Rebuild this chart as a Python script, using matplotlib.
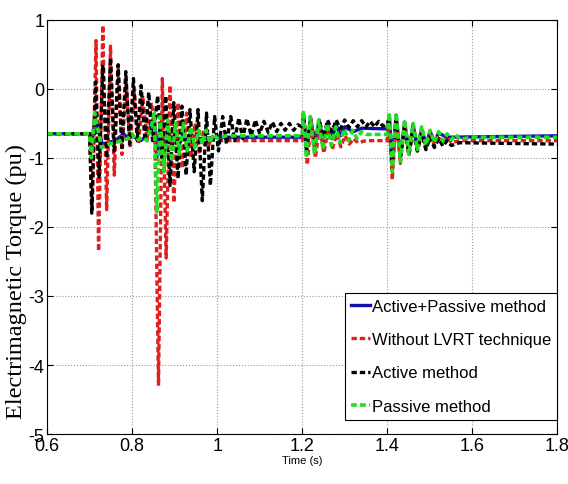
import numpy as np
import matplotlib
matplotlib.use('Agg')
from matplotlib import pyplot as plt

plt.rcParams['axes.unicode_minus'] = False

# breakpoints: (time s, torque pu)
t_both = [0.6, 0.700, 0.704, 0.712, 0.720, 0.730, 0.760, 0.780, 0.790, 0.800, 0.820, 0.835,
          0.845, 0.852, 0.858, 0.866, 0.875, 0.884, 0.893, 0.902, 0.911, 0.920, 0.930,
          0.940, 0.960, 1.000, 1.200,
          1.203, 1.210, 1.220, 1.230, 1.240, 1.250, 1.260, 1.270, 1.280, 1.290, 1.300,
          1.320, 1.340, 1.400,
          1.405, 1.412, 1.421, 1.431, 1.441, 1.451, 1.461, 1.471, 1.481, 1.491, 1.501,
          1.511, 1.521, 1.540, 1.800]
v_both = [-0.65, -0.65, -0.9, -0.4, -0.6, -0.8, -0.75, -0.65, -0.72, -0.68, -0.75, -0.68,
          -0.5, -0.4, -1.0, -0.5, -0.95, -0.55, -0.85, -0.6, -0.8, -0.65, -0.78,
          -0.68, -0.72, -0.7, -0.7,
          -0.35, -0.9, -0.42, -0.85, -0.45, -0.78, -0.5, -0.72, -0.52, -0.68, -0.55,
          -0.62, -0.57, -0.58,
          -0.38, -1.1, -0.38, -1.0, -0.48, -0.9, -0.52, -0.85, -0.58, -0.8, -0.62,
          -0.76, -0.64, -0.7, -0.68]

t_none = [0.6, 0.700, 0.706, 0.715, 0.721, 0.731, 0.740, 0.749, 0.758, 0.767, 0.776,
          0.786, 0.795, 0.805, 0.815, 0.825, 0.835, 0.845, 0.853, 0.862, 0.871, 0.880,
          0.889, 0.898, 0.908, 0.918, 0.928, 0.938, 0.948, 0.958, 0.968, 0.978, 0.988,
          1.000, 1.200,
          1.204, 1.212, 1.221, 1.231, 1.241, 1.251, 1.261, 1.271, 1.281, 1.291, 1.301,
          1.311, 1.321, 1.331, 1.350, 1.400,
          1.404, 1.412, 1.421, 1.431, 1.441, 1.451, 1.461, 1.471, 1.481, 1.491, 1.501,
          1.511, 1.521, 1.531, 1.541, 1.551, 1.570, 1.800]
v_none = [-0.65, -0.65, -1.75, 0.7, -2.35, 0.92, -1.75, 0.62, -1.25, 0.3, -0.95,
          0.1, -0.85, -0.05, -0.8, -0.1, -0.75, -0.2, -0.5, -4.3, 0.15, -2.45,
          0.05, -1.65, -0.2, -1.15, -0.35, -1.0, -0.5, -0.95, -0.6, -0.85, -0.7,
          -0.75, -0.75,
          -0.4, -1.1, -0.45, -1.0, -0.55, -0.93, -0.6, -0.88, -0.65, -0.84, -0.68,
          -0.8, -0.72, -0.78, -0.75, -0.75,
          -0.4, -1.32, -0.4, -1.08, -0.5, -0.98, -0.55, -0.9, -0.6, -0.86, -0.65,
          -0.82, -0.68, -0.8, -0.7, -0.78, -0.75, -0.75]

t_active = [0.6, 0.700, 0.705, 0.714, 0.722, 0.731, 0.740, 0.749, 0.758, 0.767, 0.776,
            0.785, 0.794, 0.803, 0.812, 0.821, 0.830, 0.839, 0.848, 0.860, 0.870, 0.879,
            0.889, 0.898, 0.908, 0.917, 0.927, 0.936, 0.946, 0.955, 0.965, 0.975, 0.984,
            0.994, 1.003, 1.013, 1.022, 1.032, 1.041, 1.051, 1.060, 1.070, 1.080, 1.090,
            1.100, 1.110, 1.120, 1.130, 1.140, 1.150, 1.160, 1.170, 1.180, 1.190, 1.200,
            1.204, 1.210, 1.220, 1.230, 1.240, 1.250, 1.260, 1.270, 1.280, 1.290, 1.300,
            1.310, 1.320, 1.330, 1.340, 1.350, 1.360, 1.370, 1.380, 1.390, 1.400,
            1.404, 1.412, 1.421, 1.431, 1.441, 1.451, 1.461, 1.471, 1.481, 1.491, 1.501,
            1.511, 1.521, 1.531, 1.541, 1.551, 1.570, 1.800]
v_active = [-0.65, -0.65, -1.8, 0.1, -1.3, 0.35, -1.0, 0.45, -0.9, 0.35, -0.85,
            0.25, -0.8, 0.15, -0.75, 0.05, -0.75, -0.05, -0.75, -0.1, -1.0, -0.1,
            -1.4, -0.2, -1.3, -0.25, -1.25, -0.3, -1.2, -0.3, -1.62, -0.35, -1.4,
            -0.4, -0.9, -0.4, -0.8, -0.4, -0.75, -0.42, -0.72, -0.43, -0.68, -0.45,
            -0.65, -0.47, -0.63, -0.48, -0.62, -0.5, -0.6, -0.5, -0.6, -0.52, -0.55,
            -0.4, -0.9, -0.45, -0.8, -0.45, -0.7, -0.45, -0.62, -0.45, -0.58, -0.45,
            -0.56, -0.46, -0.55, -0.46, -0.55, -0.47, -0.55, -0.47, -0.54, -0.5,
            -0.45, -1.1, -0.45, -1.0, -0.55, -0.95, -0.6, -0.9, -0.65, -0.88, -0.7,
            -0.85, -0.72, -0.83, -0.75, -0.82, -0.78, -0.8]

t_passive = [0.6, 0.700, 0.704, 0.712, 0.718, 0.728, 0.745, 0.760, 0.775, 0.790, 0.800,
             0.810, 0.825, 0.835, 0.845, 0.852, 0.858, 0.866, 0.875, 0.884, 0.893, 0.902,
             0.911, 0.920, 0.929, 0.938, 0.947, 0.956, 0.965, 0.974, 0.983, 0.992, 1.000,
             1.020, 1.200,
             1.203, 1.210, 1.219, 1.229, 1.239, 1.249, 1.259, 1.269, 1.279, 1.289, 1.299,
             1.309, 1.319, 1.329, 1.339, 1.350, 1.400,
             1.405, 1.412, 1.421, 1.431, 1.441, 1.451, 1.461, 1.471, 1.481, 1.491, 1.501,
             1.511, 1.521, 1.531, 1.541, 1.551, 1.561, 1.571, 1.600, 1.800]
v_passive = [-0.65, -0.65, -1.0, -0.35, -0.55, -0.85, -0.8, -0.78, -0.75, -0.72, -0.65,
             -0.75, -0.7, -0.75, -0.55, -0.35, -1.8, -0.4, -1.2, -0.45, -1.05, -0.5,
             -0.95, -0.5, -0.9, -0.55, -0.85, -0.6, -0.8, -0.6, -0.78, -0.65, -0.72,
             -0.68, -0.68,
             -0.32, -1.0, -0.4, -0.95, -0.45, -0.88, -0.5, -0.82, -0.55, -0.78, -0.58,
             -0.75, -0.6, -0.72, -0.62, -0.66, -0.66,
             -0.35, -1.2, -0.35, -1.05, -0.45, -0.95, -0.5, -0.88, -0.55, -0.82, -0.6,
             -0.78, -0.62, -0.76, -0.65, -0.74, -0.66, -0.73, -0.7, -0.7]

sans = 'Liberation Sans'
dash = (0, (1.6, 0.9))

fig = plt.figure(figsize=(5.68, 4.85), dpi=100)
ax = fig.add_axes([0.083, 0.103, 0.898, 0.854])

ax.plot(t_both, v_both, color='#1010b0', lw=2.4, label='Active+Passive method')
ax.plot(t_none, v_none, color='#e02020', lw=2.4, ls=dash, label='Without LVRT technique')
ax.plot(t_active, v_active, color='black', lw=2.4, ls=dash, label='Active method')
ax.plot(t_passive, v_passive, color='#22dd22', lw=2.6, ls=dash, label='Passive method')

ax.set_xlim(0.6, 1.8)
ax.set_ylim(-5, 1)
ax.set_xticks([0.6, 0.8, 1.0, 1.2, 1.4, 1.6, 1.8])
ax.set_xticklabels(['0.6', '0.8', '1', '1.2', '1.4', '1.6', '1.8'])
ax.set_yticks([-5, -4, -3, -2, -1, 0, 1])
ax.grid(True, ls=':', color='#999999', lw=0.8)
ax.tick_params(direction='in', length=4, labelsize=13, top=True, right=True, pad=2)
for lab in ax.get_xticklabels() + ax.get_yticklabels():
    lab.set_family(sans)
for s in ax.spines.values():
    s.set_linewidth(0.8)

ax.set_xlabel('Time (s)', fontsize=8, family=sans, labelpad=1)
ax.set_ylabel('Electrimagnetic Torque (pu)', fontsize=17.5, family='Liberation Serif')
ax.yaxis.set_label_coords(-0.04, 0.37)

leg = ax.legend(loc='lower right', bbox_to_anchor=(1.0, 0.035),
                prop={'family': sans, 'size': 12},
                handlelength=1.1, handletextpad=0.15, borderpad=0.35,
                labelspacing=1.1, fancybox=False, framealpha=1,
                borderaxespad=0.0)
leg.get_frame().set_edgecolor('black')
leg.get_frame().set_linewidth(0.8)

plt.savefig('out.png', dpi=100)
